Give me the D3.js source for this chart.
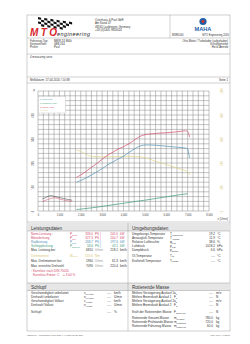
<!DOCTYPE html>
<html>
<head>
<meta charset="utf-8">
<script src="https://cdn.jsdelivr.net/npm/d3@7"></script>
<style>
  html, body { margin: 0; padding: 0; background: #fff; }
  svg { display: block; font-family: "Liberation Sans", Arial, sans-serif; }
</style>
</head>
<body>
<div id="sheet"></div>
<script>
// curve data (rpm -> PS / Nm)
const rpm       = [1800, 2000, 2250, 2500, 2750, 3000, 3250, 3500, 3750, 4000, 4250, 4500, 4750, 5000, 5250, 5500, 5750, 6000, 6250, 6500, 6750, 6900, 7000, 7050, 7090];
const pNorm     = [140, 150, 165, 182, 198, 215, 232, 245, 258, 268, 280, 295, 310, 318, 321, 323, 325, 326, 328, 330, 333, 334, 331, 322, 308];
const pRad      = [120, 127, 138, 150, 163, 176, 192, 204, 217, 228, 244, 258, 270, 275, 275, 274, 272, 270, 268, 266, 264, 262, 258, 240, 222];
const torque    = [505, 498, 470, 455, 452, 452, 452, 453, 454, 455, 456, 455, 452, 445, 430, 415, 402, 388, 374, 358, 344, 336, 328, 318, 300];
const rpmDrag   = [1800, 2000, 2500, 3000, 3500, 4000, 4500, 5000, 5500, 6000, 6500, 7000];
const pSchlepp  = [6, 8, 13, 19, 26, 32, 39, 45, 52, 59, 66, 72];
// small coast-down traces in the lower left corner
const rpmCoast  = [200, 400, 600, 800, 1000, 1200, 1400, 1600];
const coastA    = [50, 58, 64, 60, 56, 52, 48, 45];
const coastB    = [40, 46, 52, 55, 50, 46, 42, 40];

const xTicks = [0, 1000, 2000, 3000, 4000, 5000, 6000, 7000, 8000];
const pTicks = [0, 100, 200, 300, 400];
const mTicks = [0, 200, 400, 600, 800, 1000];

const legendItems = [
  {name: "P-Rad [PS]", color: "#4d8fb5"},
  {name: "P-Schlepp [PS]", color: "#3e9c7c"},
  {name: "P-Norm [PS]", color: "#d2496a"},
  {name: "M [Nm]", color: "#e3d58a"}
];

const leistung = [
  ["Norm-Leistung ¹", "P", "Norm", "333.0", "PS", "245.0", "kW", "#d2496a"],
  ["Motorleistung", "P", "Mot", "327.3", "PS", "240.7", "kW", "#d2496a"],
  ["Radleistung", "P", "Rad", "268.7", "PS", "197.6", "kW", "#4d8fb5"],
  ["Schleppleistung", "P", "Schlepp", "58.6", "PS", "43.1", "kW", "#3e9c7c"]
];
const umgebung = [
  ["Umgebungs-Temperatur", "T", "Umgebung", "19.2", "°C"],
  ["Ansaugluft-Temperatur", "T", "Ansaug", "11.9", "°C"],
  ["Relative Luftfeuchte", "φ", "Luft", "38.6", "%"],
  ["Luftdruck", "p", "Luft", "1018.2", "hPa"],
  ["Dampfdruck", "p", "Dampf", "6.6", "hPa"]
];
const schlupf = [
  ["Geschwindigkeit unbelastet", "v", "Leerlauf", "km/h"],
  ["Drehzahl unbelastet", "n", "Leerlauf", "U/min"],
  ["Geschwindigkeit Vollast", "v", "Vollast", "km/h"],
  ["Drehzahl Vollast", "n", "Vollast", "U/min"]
];
const rotMasse = [
  ["Mittlere Verzögerung Auslauf 1", "a", "1", "----", "m/s²"],
  ["Mittlere Bremskraft Auslauf 1", "F", "1", "----", "N"],
  ["Mittlere Verzögerung Auslauf 2", "a", "2", "----", "m/s²"],
  ["Mittlere Bremskraft Auslauf 2", "F", "2", "----", "N"]
];
const massen = [
  ["Rotierende Gesamt-Masse", "m", "Gesamt", "780.0", "kg"],
  ["Rotierende Prüfstands-Masse", "m", "Prüfstand", "720.0", "kg"],
  ["Rotierende Fahrzeug-Masse", "m", "Fahrzeug", "60.0", "kg"]
];

const W = 250, H = 344;
const svg = d3.select("#sheet").append("svg").attr("width", W).attr("height", H);

const fs = 3.1;
function txt(x, y, s, opt = {}) {
  return svg.append("text").attr("x", x).attr("y", y)
    .attr("font-size", opt.size || fs)
    .attr("fill", opt.color || "#333")
    .attr("text-anchor", opt.anchor || "start")
    .text(s);
}
function sub(x, y, main, low, color, anchor) {
  const t = svg.append("text").attr("x", x).attr("y", y).attr("font-size", fs)
    .attr("fill", color || "#333").attr("text-anchor", anchor || "start");
  t.append("tspan").text(main);
  t.append("tspan").attr("font-size", 2.2).attr("dy", 0.8).text(low);
  return t;
}
function hline(y, x1 = 27, x2 = 230, c = "#888") {
  svg.append("line").attr("x1", x1).attr("x2", x2).attr("y1", y).attr("y2", y)
    .attr("stroke", c).attr("stroke-width", 0.4);
}
function vline(x, y1, y2, c = "#888") {
  svg.append("line").attr("x1", x).attr("x2", x).attr("y1", y1).attr("y2", y2)
    .attr("stroke", c).attr("stroke-width", 0.4);
}

// page frame
svg.append("rect").attr("x", 27).attr("y", 15).attr("width", 203).attr("height", 316)
  .attr("fill", "#fff").attr("stroke", "#888").attr("stroke-width", 0.4);

// ---- header
// checkered flag
const flag = svg.append("g").attr("transform", "translate(38,17) skewY(12)");
for (let r = 0; r < 4; r++) {
  for (let c = 0; c < 12; c++) {
    if ((r + c) % 2 === 0 && c < 12 - r) {
      flag.append("rect").attr("x", c * 3.1).attr("y", r * 2.2 - c * 0.2)
        .attr("width", 3.1).attr("height", 2.2).attr("fill", "#111");
    }
  }
}
svg.append("text").attr("x", 30).attr("y", 35.5).attr("font-size", 10).attr("font-weight", "bold")
  .attr("font-style", "italic").attr("fill", "#d8262e").attr("textLength", 27).text("MTO");
svg.append("text").attr("x", 57).attr("y", 35.5).attr("font-size", 5.4).attr("font-style", "italic")
  .attr("fill", "#222").attr("textLength", 33).text("engineering");

["Osterhaus & Paul GbR", "Am Kanal 47", "48565 Lastbingen, Germany", "+49 (0)5405 9656024"]
  .forEach((s, i) => txt(95, 21 + i * 3.3, s, {size: 2.8}));

vline(170, 15, 38);
// MAHA logo
svg.append("circle").attr("cx", 203).attr("cy", 21.5).attr("r", 3.6).attr("fill", "#1f5fa8");
svg.append("circle").attr("cx", 203).attr("cy", 21.5).attr("r", 1.4).attr("fill", "#e03030");
svg.append("text").attr("x", 203).attr("y", 31).attr("font-size", 5.6).attr("font-weight", "bold")
  .attr("fill", "#1f5fa8").attr("text-anchor", "middle").text("MAHA");
txt(172, 36, "MSR1000", {size: 2.6});
txt(229, 36, "MTO Engineering 2020", {size: 2.6, anchor: "end"});

hline(38);
[["Fahrzeug-Typ:", "BMW Z4 M40i"], ["Kennzeichen:", "0BB 244"], ["Prüfer:", "Paul"]]
  .forEach((r, i) => { txt(30, 41.5 + i * 3.4, r[0], {size: 2.8}); txt(54, 41.5 + i * 3.4, r[1], {size: 2.8}); });
["Otto-Motor / Turbolader (aufgeladen)", "Schaltgetriebe", "Heck-Antrieb"]
  .forEach((s, i) => txt(228, 41.5 + i * 3.4, s, {size: 2.8, anchor: "end"}));
hline(54);
txt(30, 58, "4 measuring serie", {size: 2.8});
hline(77);
txt(30, 81, "Meßdatum: 17.04.2020 / 10:38", {size: 2.9});
txt(228, 81, "Seite 1", {size: 2.9, anchor: "end"});
hline(83);

// ---- chart
const x  = d3.scaleLinear().domain([0, 8000]).range([38, 209]);
const yP = d3.scaleLinear().domain([0, 500]).range([211, 91]);
const yM = d3.scaleLinear().domain([0, 1000]).range([211, 91]);

const grid = svg.append("g").attr("stroke", "#7a7a7a").attr("stroke-width", 0.45);
grid.selectAll("line.v").data(d3.range(0, 8001, 250)).join("line")
  .attr("x1", d => x(d)).attr("x2", d => x(d)).attr("y1", yP(500)).attr("y2", yP(0));
grid.selectAll("line.h").data(d3.range(0, 501, 20)).join("line")
  .attr("x1", x(0)).attr("x2", x(8000)).attr("y1", d => yP(d)).attr("y2", d => yP(d));

// left axis (PS), labels turned on their side
const axL = svg.append("g").attr("transform", `translate(${x(0) - 4},0)`)
  .call(d3.axisLeft(yP).tickValues(pTicks).tickSize(0).tickPadding(0));
axL.select(".domain").remove();
axL.selectAll("text").attr("font-size", 2.6).attr("fill", "#444")
  .attr("x", 0).attr("y", 0).attr("dy", 0).attr("text-anchor", "middle")
  .attr("transform", "rotate(-90)");
txt(x(0) - 3, yP(500) + 1, "P", {size: 2.6, color: "#444", anchor: "end"});

// right axis (Nm)
const axR = svg.append("g").attr("transform", `translate(${x(8000) + 14},0)`)
  .call(d3.axisRight(yM).tickValues(mTicks).tickSize(0).tickPadding(0));
axR.select(".domain").remove();
axR.selectAll("text").attr("font-size", 2.6).attr("fill", "#d8c774")
  .attr("x", 0).attr("y", 0).attr("dy", 0).attr("text-anchor", "middle")
  .attr("transform", "rotate(-90)");

const axB = svg.append("g").attr("transform", `translate(0,${yP(0) + 4.5})`)
  .call(d3.axisBottom(x).tickValues(xTicks).tickSize(0).tickPadding(0));
axB.select(".domain").remove();
axB.selectAll("text").attr("font-size", 2.6).attr("fill", "#444").attr("dy", 0);
txt(228, 219.5, "n [U/min]", {size: 2.6, anchor: "end", color: "#444"});

const line = (xs, ys, yScale) => d3.line()
  .x((d, i) => x(xs[i])).y((d, i) => yScale(ys[i]))
  .curve(d3.curveMonotoneX)(ys);

const curves = svg.append("g").attr("fill", "none").attr("stroke-width", 0.7);
curves.append("path").attr("d", line(rpm, torque, yM)).attr("stroke", legendItems[3].color);
curves.append("path").attr("d", line(rpmDrag, pSchlepp, yP)).attr("stroke", legendItems[1].color);
curves.append("path").attr("d", line(rpm, pRad, yP)).attr("stroke", legendItems[0].color);
curves.append("path").attr("d", line(rpm, pNorm, yP)).attr("stroke", legendItems[2].color);
curves.append("path").attr("d", line(rpmCoast, coastA, yP)).attr("stroke", "#333").attr("stroke-width", 0.5);
curves.append("path").attr("d", line(rpmCoast, coastB, yP)).attr("stroke", "#d2496a").attr("stroke-width", 0.5);

// legend
svg.append("rect").attr("x", 38.5).attr("y", 96.5).attr("width", 27).attr("height", 16.5)
  .attr("fill", "#fff").attr("stroke", "#aaa").attr("stroke-width", 0.3);
legendItems.forEach((d, i) => txt(40, 100 + i * 3.8, d.name, {size: 2.5, color: d.color}));

hline(222);

// ---- data tables
svg.append("rect").attr("x", 27).attr("y", 223).attr("width", 203).attr("height", 8).attr("fill", "#e6e6e6");
svg.append("rect").attr("x", 27).attr("y", 283).attr("width", 203).attr("height", 7.5).attr("fill", "#e6e6e6");
vline(128, 223, 331);
hline(231); hline(283); hline(290.5);
txt(31, 229.5, "Leistungsdaten", {size: 4.6, color: "#333"});
txt(132, 229.5, "Umgebungsdaten", {size: 4.6, color: "#333"});
txt(31, 289, "Schlupf", {size: 4.6, color: "#333"});
txt(132, 289, "Rotierende Masse", {size: 4.6, color: "#333"});

leistung.forEach((r, i) => {
  const y = 235 + i * 4, c = r[7];
  txt(31, y, r[0], {color: c});
  sub(70, y, r[1], r[2], c);
  txt(93, y, r[3], {color: c, anchor: "end"});
  txt(95, y, r[4] + "  |", {color: c});
  txt(118, y, r[5], {color: c, anchor: "end"});
  txt(120, y, r[6], {color: c});
});
txt(31, 251, "Max. Leistung bei");
txt(93, 251, "6810", {anchor: "end"}); txt(95, 251, "U/min", {color: "#999"});
txt(118, 251, "218.1", {anchor: "end"}); txt(120, 251, "km/h");
txt(31, 256.5, "Drehmoment", {color: "#d8c774"});
sub(70, 256.5, "M", "Norm", "#d8c774");
txt(93, 256.5, "503.6", {color: "#d8c774", anchor: "end"}); txt(95, 256.5, "Nm", {color: "#d8c774"});
txt(31, 261.5, "Max. Drehmoment bei");
txt(93, 261.5, "1960", {anchor: "end"}); txt(95, 261.5, "U/min", {color: "#999"});
txt(118, 261.5, "61.3", {anchor: "end"}); txt(120, 261.5, "km/h");
txt(31, 266.5, "Max. erreichte Drehzahl");
txt(93, 266.5, "7090", {anchor: "end"}); txt(95, 266.5, "U/min", {color: "#999"});
txt(118, 266.5, "220.4", {anchor: "end"}); txt(120, 266.5, "km/h");
txt(31, 271.5, "¹ Korrektur nach DIN 70020", {color: "#d2496a"});
txt(33, 275.5, "Korrektur-Faktor:  C", {color: "#d2496a"});
txt(63, 275.5, "=   3.00 %", {color: "#d2496a"});

umgebung.forEach((r, i) => {
  const y = 235 + i * 4;
  txt(132, y, r[0]);
  sub(170, y, r[1], r[2]);
  txt(215, y, r[3], {anchor: "end"});
  txt(217, y, r[4]);
});
[["Öl-Temperatur", "T", "Öl"], ["Kraftstoff-Temperatur", "T", "Kraftst."]].forEach((r, i) => {
  const y = 256.5 + i * 5;
  txt(132, y, r[0]); sub(170, y, r[1], r[2]);
  txt(215, y, "----", {anchor: "end"}); txt(217, y, "°C");
});

schlupf.forEach((r, i) => {
  const y = 294 + i * 4;
  txt(31, y, r[0]); sub(84, y, r[1], r[2]);
  txt(111, y, "----", {anchor: "end"}); txt(114, y, r[3]);
});
txt(31, 313, "Schlupf"); txt(111, 313, "----", {anchor: "end"}); txt(114, 313, "%");

rotMasse.forEach((r, i) => {
  const y = 294 + i * 4;
  txt(132, y, r[0]); sub(174, y, r[1], r[2]);
  txt(213, y, r[3], {anchor: "end"}); txt(216, y, r[4]);
});
txt(132, 313, "Kraft der Rotierenden Masse"); sub(174, 313, "F", "Rotierend");
txt(213, 313, "----", {anchor: "end"}); txt(216, 313, "N");
massen.forEach((r, i) => {
  const y = 319 + i * 4;
  txt(132, y, r[0]); sub(174, y, r[1], r[2]);
  txt(213, y, r[3], {anchor: "end"}); txt(216, y, r[4]);
});

// footer
txt(27, 336, "MSR1000 · MTO Engineering 2020 • 4.0.2020 21:35 2024", {size: 2.2, color: "#666"});
txt(150, 336, "·························", {size: 2.2, color: "#888", anchor: "middle"});
txt(230, 336, "LPS 4000 V 1.23.51", {size: 2.2, color: "#666", anchor: "end"});
</script>
</body>
</html>
